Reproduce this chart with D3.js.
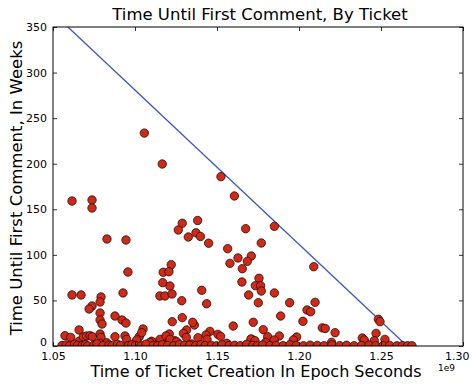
<!DOCTYPE html>
<html>
<head>
<meta charset="utf-8">
<script src="https://cdn.jsdelivr.net/npm/d3@7"></script>
<style>
  html, body { margin: 0; padding: 0; background: #ffffff; }
  svg { display: block; font-family: "DejaVu Sans", sans-serif; }
</style>
</head>
<body>
<svg id="chart" width="472" height="385"></svg>
<script>
// Ticket creation time (epoch seconds / 1e9) and weeks until the first comment.
const createdAt = [
  1.0616,1.0738,1.0738,1.0829,1.0945,1.0957,1.1057,1.1166,
  1.0616,1.0671,1.0793,1.0787,1.0738,1.0720,1.0927,1.0787,1.0878,1.0787,1.0799,1.0921,1.0945,1.0659,1.1049,
  1.1524,1.1606,1.1382,1.1288,1.1264,1.1325,1.1372,1.1399,1.1449,1.1675,1.1850,1.1770,1.1565,1.1628,1.1709,
  1.1685,1.1579,1.1654,1.2090,1.1756,1.1652,1.1734,1.1766,1.1770,1.1693,1.1407,1.1437,1.1850,1.1752,1.1943,
  1.2098,1.1888,1.2049,1.2071,1.2024,1.1721,1.1599,1.1782,1.1362,1.2142,1.2160,1.2220,1.1457,1.1505,1.1522,
  1.1809,1.1880,1.1986,1.1713,1.2199,
  1.1221,1.1172,1.1207,1.1169,1.1213,1.1152,1.1183,1.1226,1.1285,1.1227,1.1288,1.1352,1.1209,1.1183,1.1315,
  1.1295,1.1313,1.1433,1.1439,1.1244,1.1152,1.1102,1.1346,1.1559,
  1.2484,1.2494,1.2470,1.2524,1.2459,1.2386,1.2398,1.1965,1.1707,1.1732,1.1849,1.1797,
  1.0573,1.0608,1.0659,1.0685,1.0705,1.0726,1.0740,1.0787,1.0793,1.0787,1.0878,1.0939,1.0949,1.0827,1.1026,
  1.1041,1.1010,1.1091,1.1189,1.1213,1.1254,1.1384,
  1.0555,1.0580,1.0602,1.0631,1.0650,1.0677,1.0698,1.0712,1.0749,1.0768,1.0805,1.0842,1.0861,1.0893,1.0912,
  1.0958,1.0981,1.1003,1.1038,1.1067,1.1112,1.1138,1.1167,1.1199,1.1236,1.1271,1.1302,1.1333,1.1369,1.1402,
  1.1428,1.1466,1.1497,1.1531,1.1574,1.1608,1.1642,1.1681,1.1718,1.1745,1.1779,1.1822,1.1861,1.1903,1.1944,
  1.1982,1.2027,1.2068,1.2112,1.2153,1.2201,1.2248,1.2290,1.2336,1.2381,1.2427,1.2468,1.2512,1.2553,1.2597,
  1.2631,1.2662,1.2689
];
const weeksToComment = [
  159.1,160.2,151.4,117.4,116.3,81.2,233.6,199.7,
  56.0,56.0,53.8,48.3,43.9,40.6,58.2,36.2,32.9,28.5,24.1,28.5,25.2,17.6,18.7,
  185.8,164.6,137.7,134.6,127.3,119.6,124.2,120.2,112.8,128.7,131.3,113.0,106.8,96.6,98.7,
  92.9,90.7,84.8,87.0,74.3,70.2,66.2,66.2,60.3,56.0,61.1,46.4,58.2,47.5,47.5,
  47.9,32.9,39.5,37.6,27.1,26.0,21.9,17.9,23.0,19.9,19.2,14.6,16.1,12.8,10.6,
  10.2,11.0,9.9,7.3,4.0,
  89.2,80.9,81.5,69.5,65.8,54.9,54.9,57.1,49.7,26.7,31.1,26.0,13.2,8.4,17.6,
  13.9,9.5,12.1,7.3,5.8,7.3,5.2,2.2,3.0,
  29.3,26.7,13.9,7.3,5.8,8.8,6.6,6.6,7.7,5.8,6.6,4.0,
  11.3,9.5,5.2,10.2,11.0,11.3,10.2,13.2,9.5,3.0,10.2,11.0,7.3,3.6,10.2,
  14.6,6.6,4.0,11.0,7.3,4.7,9.1,
  0.6,1.2,0.3,2.1,0.8,0.4,1.6,0.2,0.9,2.4,0.5,1.1,0.3,1.8,0.7,
  0.2,1.4,0.6,0.3,2.0,0.8,0.4,1.3,0.5,0.2,1.7,0.6,0.9,0.3,1.5,
  0.4,0.7,0.2,1.2,0.5,0.8,0.3,1.9,0.6,0.2,1.1,0.4,0.7,0.3,1.4,
  0.5,0.2,0.9,0.6,0.3,1.2,0.4,0.8,0.2,0.6,1.0,0.3,0.5,0.7,0.2,
  0.4,0.3,0.2
];
// Reference line: the largest possible wait for a ticket created at a given time.
const boundX = [1.0591, 1.2659];
const boundY = [350, 0];

const xTicks = [1.05, 1.10, 1.15, 1.20, 1.25, 1.30];
const yTicks = [0, 50, 100, 150, 200, 250, 300, 350];

const svg = d3.select("#chart");
const m = { left: 53, top: 27, right: 463, bottom: 346 };

const x = d3.scaleLinear().domain([1.05, 1.30]).range([m.left, m.right]);
const y = d3.scaleLinear().domain([0, 350]).range([m.bottom, m.top]);

svg.append("defs").append("clipPath").attr("id", "plot-clip")
  .append("rect")
  .attr("x", m.left).attr("y", m.top)
  .attr("width", m.right - m.left).attr("height", m.bottom - m.top);

const plot = svg.append("g").attr("clip-path", "url(#plot-clip)");

plot.append("path")
  .datum(boundX.map((d, i) => [d, boundY[i]]))
  .attr("fill", "none")
  .attr("stroke", "#3a55c4")
  .attr("stroke-width", 1.3)
  .attr("d", d3.line().x(d => x(d[0])).y(d => y(d[1])));

const points = createdAt.map((d, i) => ({ t: d, w: weeksToComment[i] }));
plot.selectAll("circle.pt")
  .data(points)
  .join("circle")
  .attr("class", "pt")
  .attr("cx", d => x(d.t))
  .attr("cy", d => y(d.w))
  .attr("r", 4.2)
  .attr("fill", "#cf2a18")
  .attr("stroke", "#2a0a05")
  .attr("stroke-width", 0.8);

// Axes with inward ticks on all four sides
const tickLen = 4;
const axisBottom = d3.axisBottom(x).tickValues(xTicks).tickSizeInner(-tickLen).tickSizeOuter(0)
  .tickFormat(d3.format(".2f")).tickPadding(6);
const axisTop = d3.axisTop(x).tickValues(xTicks).tickSizeInner(-tickLen).tickSizeOuter(0).tickFormat("");
const axisLeft = d3.axisLeft(y).tickValues(yTicks).tickSizeInner(-tickLen).tickSizeOuter(0)
  .tickFormat(d3.format("d")).tickPadding(6);
const axisRight = d3.axisRight(y).tickValues(yTicks).tickSizeInner(-tickLen).tickSizeOuter(0).tickFormat("");

function styleAxis(g) {
  g.select(".domain").remove();
  g.selectAll("line").attr("stroke", "#000").attr("stroke-width", 0.8);
  g.selectAll("text").attr("fill", "#000").attr("font-size", 11)
    .attr("font-family", "DejaVu Sans, sans-serif");
}

const gx = svg.append("g").attr("transform", `translate(0,${m.bottom})`).call(axisBottom).call(styleAxis);
svg.append("g").attr("transform", `translate(0,${m.top})`).call(axisTop).call(styleAxis);
const gy = svg.append("g").attr("transform", `translate(${m.left},0)`).call(axisLeft).call(styleAxis);
svg.append("g").attr("transform", `translate(${m.right},0)`).call(axisRight).call(styleAxis);

// Keep the last x label inside the canvas and lift the y "0" clear of "1.05"
gx.selectAll(".tick text").filter(d => d === 1.30).attr("text-anchor", "end").attr("dx", "0.55em");
gy.selectAll(".tick text").filter(d => d === 0).attr("dy", "-0.05em");

svg.append("rect")
  .attr("x", m.left).attr("y", m.top)
  .attr("width", m.right - m.left).attr("height", m.bottom - m.top)
  .attr("fill", "none").attr("stroke", "#000").attr("stroke-width", 1);

// Offset label for the x axis
svg.append("text")
  .attr("x", 455).attr("y", 371)
  .attr("text-anchor", "end")
  .attr("font-size", 9)
  .text("1e9");

svg.append("text")
  .attr("x", 260).attr("y", 20)
  .attr("text-anchor", "middle")
  .attr("font-size", 16.5)
  .text("Time Until First Comment, By Ticket");

svg.append("text")
  .attr("x", 256).attr("y", 377)
  .attr("text-anchor", "middle")
  .attr("font-size", 16)
  .text("Time of Ticket Creation In Epoch Seconds");

svg.append("text")
  .attr("transform", `translate(22,188) rotate(-90)`)
  .attr("text-anchor", "middle")
  .attr("font-size", 16.5)
  .text("Time Until First Comment, In Weeks");
</script>
</body>
</html>
